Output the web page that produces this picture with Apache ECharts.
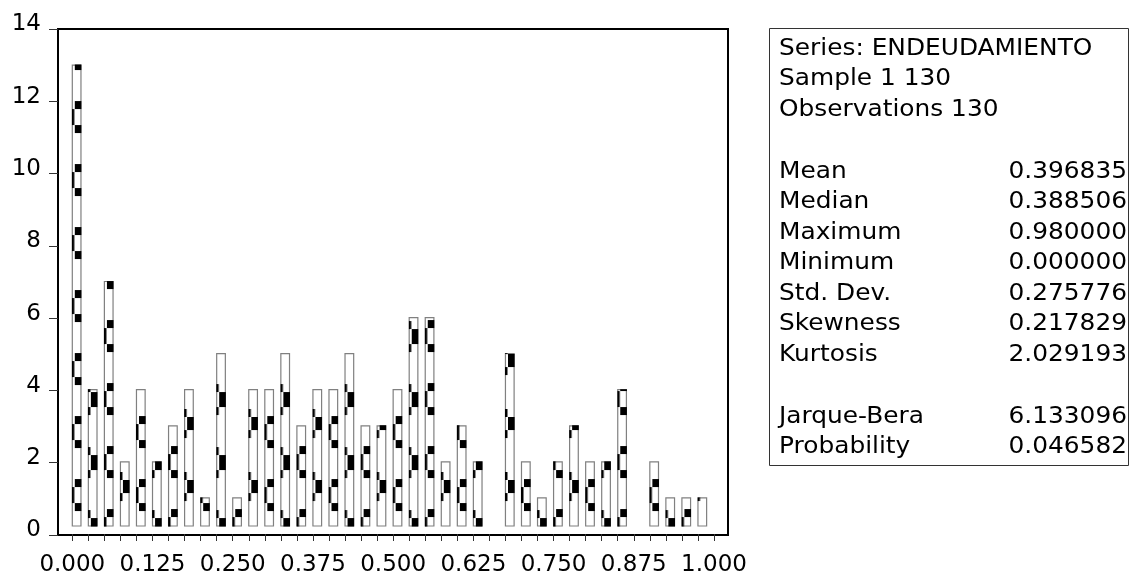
<!DOCTYPE html>
<html>
<head>
<meta charset="utf-8">
<script src="https://cdn.jsdelivr.net/npm/echarts@6/dist/echarts.min.js"></script>
<style>
  html, body { margin: 0; padding: 0; background: #fff; }
  #chart { width: 1130px; height: 577px; }
</style>
</head>
<body>
<div id="chart"></div>
<script>
// Histogram bins (lower edge of each 0.025-wide bin) and observation counts
const binStarts = [
  0.000, 0.025, 0.050, 0.075, 0.100, 0.125, 0.150, 0.175, 0.200, 0.225,
  0.250, 0.275, 0.300, 0.325, 0.350, 0.375, 0.400, 0.425, 0.450, 0.475,
  0.500, 0.525, 0.550, 0.575, 0.600, 0.625, 0.650, 0.675, 0.700, 0.725,
  0.750, 0.775, 0.800, 0.825, 0.850, 0.875, 0.900, 0.925, 0.950, 0.975
];
const counts = [
  13, 4, 7, 2, 4, 2, 3, 4, 1, 5,
  1, 4, 4, 5, 3, 4, 4, 5, 3, 3,
  4, 6, 6, 2, 3, 2, 0, 5, 2, 1,
  2, 3, 2, 2, 4, 0, 2, 1, 1, 1
];
const binWidth = 0.025;

// Descriptive statistics panel
const headerLines = ['Series: ENDEUDAMIENTO', 'Sample 1 130', 'Observations 130'];
const statNames = ['Mean', 'Median', 'Maximum', 'Minimum', 'Std. Dev.', 'Skewness', 'Kurtosis'];
const statValues = ['0.396835', '0.388506', '0.980000', '0.000000', '0.275776', '0.217829', '2.029193'];
const testNames = ['Jarque-Bera', 'Probability'];
const testValues = ['6.133096', '0.046582'];

const FONT = '"DejaVu Sans", "Liberation Sans", Arial, sans-serif';
const BAR_FILL = 0.54;   // share of a bin covered by its bar
const BASE_GAP = 8;      // bars float a few pixels above the axis

// Black dash pattern used inside the bars
function buildHatch() {
  const P = 63;
  const c = document.createElement('canvas');
  c.width = 64; c.height = P;
  const g = c.getContext('2d');
  g.fillStyle = '#000';
  const band = (x, y0, w, h) => { for (const off of [-P, 0, P]) g.fillRect(x, y0 + off, w, h); };
  band(3, 38, 7, 8);  band(0, 46, 2.5, 16); band(3, 62, 7, 8);
  band(19, 14, 7, 15); band(16, 6, 2.5, 8); band(16, 29, 2.5, 8);
  band(35, 5, 7, 8);  band(32, 13, 2.5, 16); band(35, 29, 7, 8);
  band(51, 39, 7, 13); band(48, 31, 2.5, 8); band(48, 52, 2.5, 8);
  return c;
}
const hatchTile = buildHatch();

function renderBar(params, api) {
  const start = api.value(0);
  const n = api.value(1);
  if (!n) return null;
  const top = api.coord([start, n]);
  const base = api.coord([start, 0]);
  const w = api.size([binWidth, 0])[0] * BAR_FILL;
  const x = top[0];
  const y = top[1];
  const bottom = base[1] - BASE_GAP;
  const zone = params.dataIndex % 4;
  return {
    type: 'group',
    children: [
      {
        type: 'rect',
        shape: { x: x, y: y, width: w, height: bottom - y },
        style: { fill: '#fff', stroke: '#808080', lineWidth: 1.2 }
      },
      {
        type: 'rect',
        shape: { x: x - 0.5, y: y - 0.5, width: w + 1, height: bottom - y + 1 },
        style: { fill: { image: hatchTile, repeat: 'repeat', x: (x - 0.5) - zone * 16, y: 0 } }
      }
    ]
  };
}

// Statistics panel as graphic text
const graphics = [{
  type: 'rect',
  shape: { x: 769.5, y: 28.5, width: 359, height: 437 },
  style: { fill: '#fff', stroke: '#333', lineWidth: 1 }
}];
function addText(txt, x, y, align) {
  graphics.push({
    type: 'text', x: x, y: y, scaleX: 1.08,
    style: { text: txt, font: '23px ' + FONT, fill: '#000', align: align, verticalAlign: 'middle',
             textAlign: align, textVerticalAlign: 'middle' }
  });
}
const LEFT_X = 779, RIGHT_X = 1127, STEP = 30.5;
headerLines.forEach((t, i) => addText(t, LEFT_X, 49 + i * STEP, 'left'));
statNames.forEach((t, i) => {
  addText(t, LEFT_X, 172 + i * STEP, 'left');
  addText(statValues[i], RIGHT_X, 172 + i * STEP, 'right');
});
testNames.forEach((t, i) => {
  addText(t, LEFT_X, 417 + i * STEP, 'left');
  addText(testValues[i], RIGHT_X, 417 + i * STEP, 'right');
});

const chart = echarts.init(document.getElementById('chart'), null, { renderer: 'canvas' });
chart.setOption({
  animation: false,
  backgroundColor: '#fff',
  grid: [
    { left: 58, top: 29, width: 670, height: 506, show: true, borderColor: '#000', borderWidth: 2, backgroundColor: 'transparent' },
    { left: 72.3, top: 29, width: 641.7, height: 506, show: false }
  ],
  xAxis: [
    { gridIndex: 0, type: 'value', min: 0, max: 1, show: false },
    {
      gridIndex: 1, type: 'value', min: 0, max: 1, interval: 0.125,
      axisLine: { show: false },
      axisTick: { show: true, inside: false, length: 7, lineStyle: { color: '#333', width: 1 } },
      minorTick: { show: true, splitNumber: 5, length: 7, lineStyle: { color: '#333', width: 1 } },
      splitLine: { show: false },
      minorSplitLine: { show: false },
      axisLabel: {
        margin: 20, color: '#000', fontFamily: FONT, fontSize: 23,
        formatter: v => v.toFixed(3)
      }
    }
  ],
  yAxis: [
    {
      gridIndex: 0, type: 'value', min: 0, max: 14, interval: 2,
      axisLine: { show: true, lineStyle: { color: '#000', width: 2 } },
      axisTick: { show: true, inside: false, length: 9, lineStyle: { color: '#333', width: 1 } },
      splitLine: { show: false },
      axisLabel: { margin: 17, color: '#000', fontFamily: FONT, fontSize: 23, verticalAlign: 'bottom', lineHeight: 9 }
    },
    { gridIndex: 1, type: 'value', min: 0, max: 14, show: false }
  ],
  series: [{
    type: 'custom',
    xAxisIndex: 1,
    yAxisIndex: 1,
    silent: true,
    renderItem: renderBar,
    data: binStarts.map((b, i) => [b, counts[i]])
  }],
  graphic: graphics
});
</script>
</body>
</html>
